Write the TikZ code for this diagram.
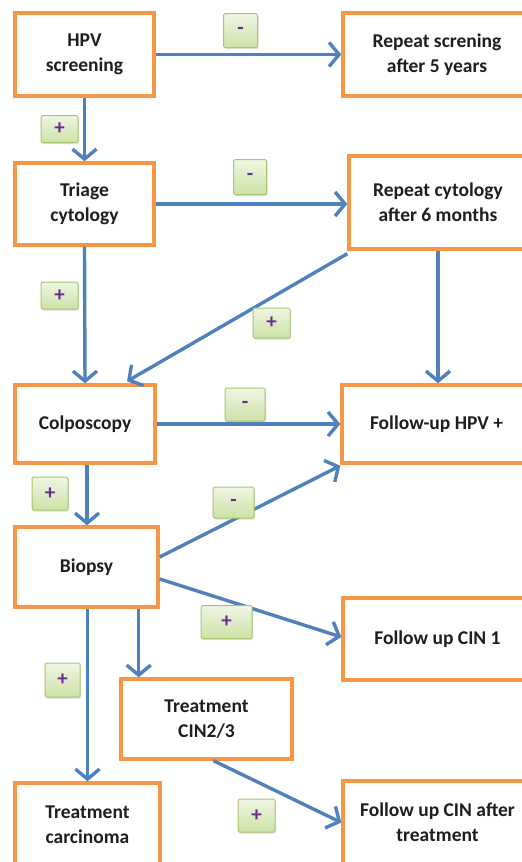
\documentclass[tikz,border=0pt]{standalone}
\usepackage{fontspec}
\setmainfont{Carlito}
\usetikzlibrary{arrows.meta,shadows,calc}
\definecolor{boxorange}{HTML}{F79646}
\definecolor{arrowblue}{HTML}{4F81BD}
\definecolor{lbltop}{HTML}{F0F6E4}
\definecolor{lblbot}{HTML}{CCE2A6}
\definecolor{lblborder}{HTML}{A9C66F}
\definecolor{signpurple}{HTML}{6A2C91}
\definecolor{txt}{HTML}{1E1E1E}
\begin{document}
\begin{tikzpicture}[x=1pt,y=-1pt,
  stepbox/.style={draw=boxorange, line width=3.4pt, fill=white, align=center,
    font=\fontsize{19.5}{25}\selectfont\bfseries, text=txt, inner sep=0pt},
  flow/.style={draw=arrowblue, line width=3.4pt,
    -{Straight Barb[length=10pt,width=24pt]}},
  sign/.style={draw=lblborder, line width=1pt, rounded corners=1.5pt,
    top color=lbltop, bottom color=lblbot,
    drop shadow={shadow xshift=1pt,shadow yshift=-1.5pt,opacity=0.25},
    text=signpurple, font=\fontsize{21}{21}\selectfont\bfseries, inner sep=0pt}]
\useasboundingbox (0,0) rectangle (522,862);
\clip (0,0) rectangle (522,862);
\fill[white] (0,0) rectangle (522,862);

% boxes
\node[stepbox, minimum width=139pt, minimum height=83pt] (hpv) at (84.5,54.5) {HPV\\screening};
\node[stepbox, minimum width=188pt, minimum height=83pt] (rep5) at (437,54.5) {Repeat screning\\after 5 years};
\node[stepbox, minimum width=139pt, minimum height=82pt] (triage) at (84.5,204) {Triage\\cytology};
\node[stepbox, minimum width=178pt, minimum height=93pt] (repcyt) at (438,202.5) {Repeat cytology\\after 6 months};
\node[stepbox, minimum width=140pt, minimum height=78pt] (colpo) at (85,424) {Colposcopy};
\node[stepbox, minimum width=189pt, minimum height=78pt] (fuhpv) at (436.5,424) {Follow-up HPV +};
\node[stepbox, minimum width=143pt, minimum height=80pt] (biopsy) at (86.5,567) {Biopsy};
\node[stepbox, minimum width=189pt, minimum height=82pt] (cin1) at (437.5,639) {Follow up CIN 1};
\node[stepbox, minimum width=171pt, minimum height=80pt] (cin23) at (206.5,719) {Treatment\\CIN2/3};
\node[stepbox, minimum width=145pt, minimum height=84pt] (carc) at (87.5,825) {Treatment\\carcinoma};
\node[stepbox, minimum width=189pt, minimum height=83pt] (fucin) at (437.5,822.5) {Follow up CIN after\\treatment};

% connector end points
\coordinate (rcs) at ($(repcyt.south west)+(0,3)$);
\coordinate (cpn) at ($(colpo.north)+(42,-2)$);
\coordinate (cps) at ($(colpo.south)+(2,0)$);
\coordinate (bup) at ($(biopsy.east)+(0,-10)$);
\coordinate (bdn) at ($(biopsy.east)+(0,12)$);
\coordinate (fhs) at ($(fuhpv.south west)+(0,1)$);
\coordinate (c1w) at ($(cin1.west)+(0,-2)$);
\coordinate (bs2) at ($(biopsy.south east)+(-21,0)$);
\coordinate (bs1) at ($(biopsy.south)+(1,0)$);
\coordinate (cts) at ($(cin23.south)+(7,0)$);

% connectors
\draw[flow] (hpv.east) -- (hpv.east -| rep5.west);
\draw[flow] (hpv.south) -- (triage.north);
\draw[flow] (triage.east) -- (triage.east -| repcyt.west);
\draw[flow] (triage.south) -- (colpo.north);
\draw[flow] (rcs) -- (cpn);
\draw[flow] (repcyt.south) -- (repcyt.south |- fuhpv.north);
\draw[flow] (colpo.east) -- (colpo.east -| fuhpv.west);
\draw[flow] (cps) -- (cps |- biopsy.north);
\draw[flow] (bup) -- (fhs);
\draw[flow] (bdn) -- (c1w);
\draw[flow] (bs2) -- (bs2 |- cin23.north);
\draw[flow] (bs1) -- (bs1 |- carc.north);
\draw[flow] (cts) -- (fucin.west);

% signs
\node[sign, minimum width=34pt, minimum height=34pt] (s1) at (240.5,30.5) {-};
\node[sign, minimum width=37pt, minimum height=27pt] (s2) at (59.5,129) {+};
\node[sign, minimum width=33pt, minimum height=35pt] (s3) at (250,177) {-};
\node[sign, minimum width=37pt, minimum height=27pt] (s4) at (59.5,295.5) {+};
\node[sign, minimum width=37pt, minimum height=30pt] (s5) at (271.5,323) {+};
\node[sign, minimum width=40pt, minimum height=33pt] (s6) at (245,404.5) {-};
\node[sign, minimum width=36pt, minimum height=33pt] (s7) at (50,493.5) {+};
\node[sign, minimum width=41pt, minimum height=31pt] (s8) at (233.5,502.5) {-};
\node[sign, minimum width=51pt, minimum height=33pt] (s9) at (226.5,622) {+};
\node[sign, minimum width=35pt, minimum height=34pt] (s10) at (62.5,680) {+};
\node[sign, minimum width=37pt, minimum height=33pt] (s11) at (256.5,815.5) {+};
\end{tikzpicture}
\end{document}
